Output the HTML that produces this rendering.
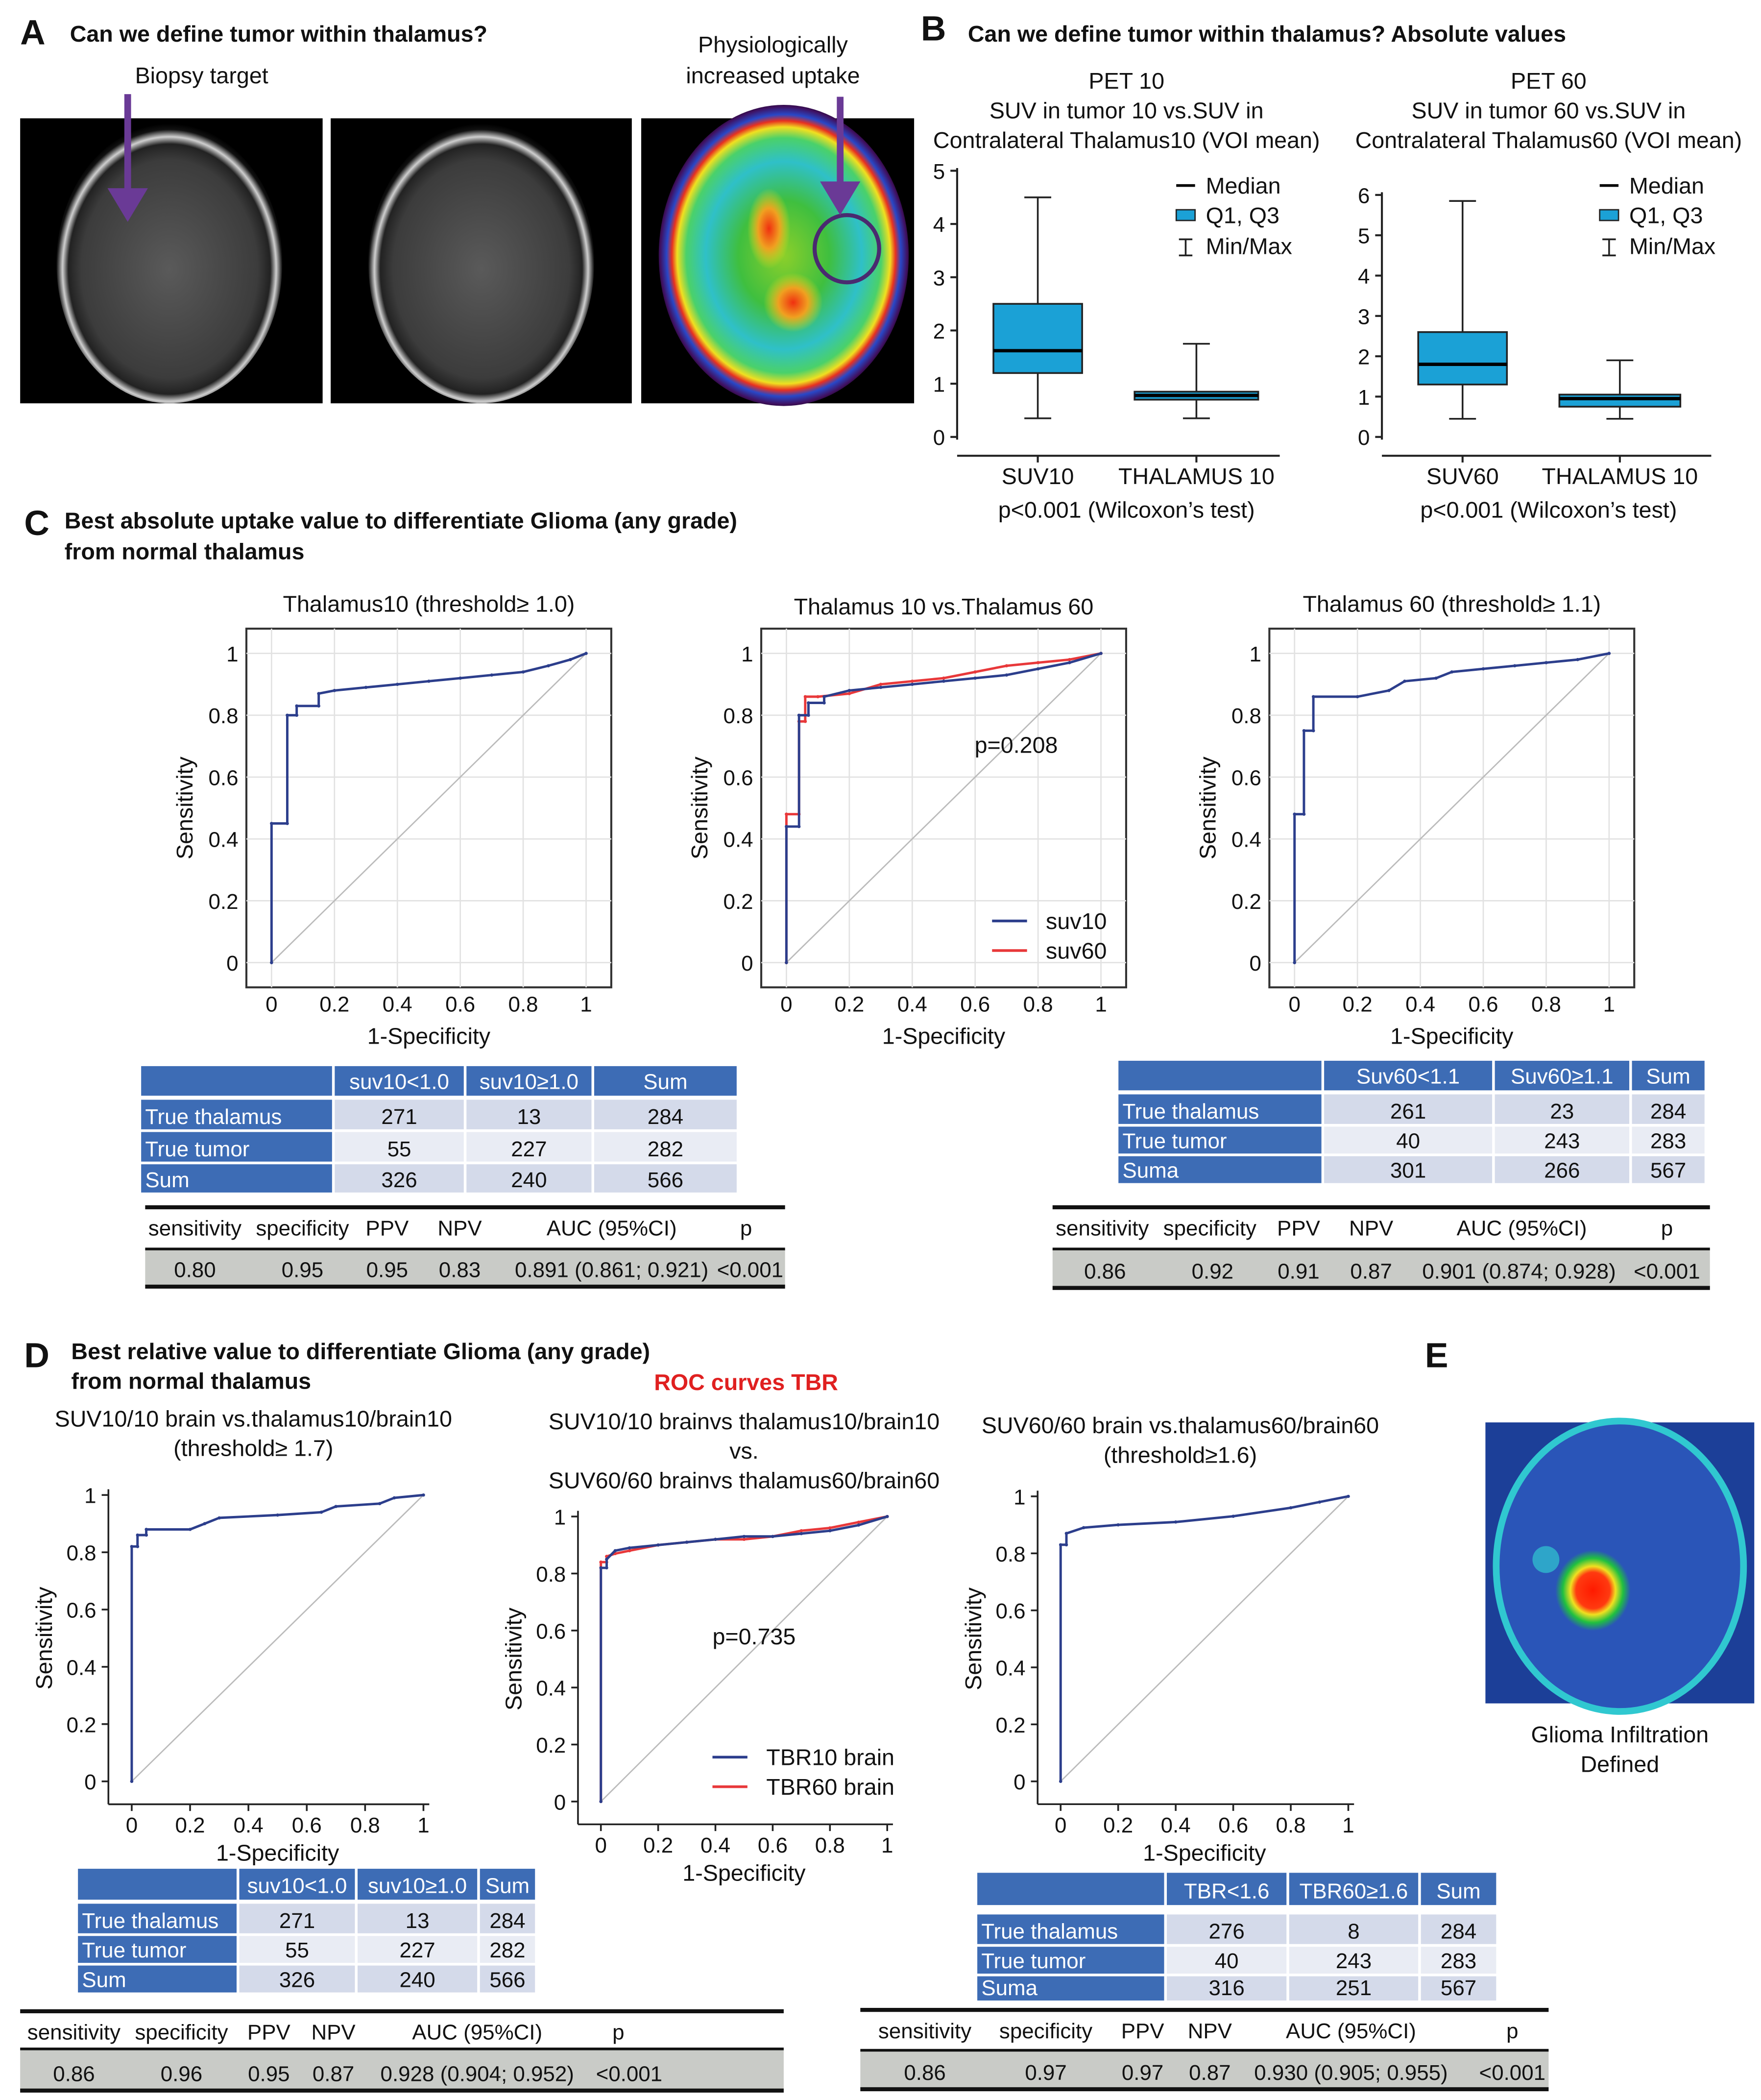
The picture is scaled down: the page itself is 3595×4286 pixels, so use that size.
<!DOCTYPE html>
<html><head><meta charset="utf-8">
<style>
html,body{margin:0;padding:0;background:#fff;}
svg{display:block;font-family:"Liberation Sans",sans-serif;}
</style></head>
<body>
<svg id="fig" width="3595" height="4286" viewBox="0 0 1310 1562" preserveAspectRatio="none" xmlns="http://www.w3.org/2000/svg">
<defs>
<radialGradient id="mri" cx="50%" cy="52%" r="52%">
<stop offset="0" stop-color="#5a5a5a"/><stop offset="0.75" stop-color="#3c3c3c"/><stop offset="0.86" stop-color="#222"/><stop offset="0.91" stop-color="#cfcfcf"/><stop offset="0.96" stop-color="#111"/><stop offset="1" stop-color="#000"/>
</radialGradient>
<radialGradient id="pet" cx="50%" cy="50%" r="52%">
<stop offset="0" stop-color="#8ccf2a"/><stop offset="0.35" stop-color="#3fbf3f"/><stop offset="0.6" stop-color="#2fc0c8"/><stop offset="0.75" stop-color="#4ad16a"/><stop offset="0.82" stop-color="#f0e020"/><stop offset="0.86" stop-color="#e83020"/><stop offset="0.9" stop-color="#2848c8"/><stop offset="0.95" stop-color="#401060"/><stop offset="1" stop-color="#000"/>
</radialGradient>
<radialGradient id="hot" cx="50%" cy="50%" r="50%">
<stop offset="0" stop-color="#ff1a00"/><stop offset="0.45" stop-color="#ff3a10"/><stop offset="0.6" stop-color="#f0e020"/><stop offset="0.8" stop-color="#20c040"/><stop offset="1" stop-color="#20c040" stop-opacity="0"/>
</radialGradient>
<radialGradient id="hotA" cx="50%" cy="50%" r="50%">
<stop offset="0" stop-color="#f03010"/><stop offset="0.5" stop-color="#f0a020"/><stop offset="1" stop-color="#e0e020" stop-opacity="0"/>
</radialGradient>
</defs>
</svg>
<script>
// ---------- DATA ----------
const boxCats1 = ["SUV10", "THALAMUS 10"];
const boxMin1 = [0.35, 0.35];
const boxQ1_1 = [1.2, 0.7];
const boxMed1 = [1.62, 0.78];
const boxQ3_1 = [2.5, 0.85];
const boxMax1 = [4.5, 1.75];
const boxTicks1 = [0, 1, 2, 3, 4, 5];

const boxCats2 = ["SUV60", "THALAMUS 10"];
const boxMin2 = [0.45, 0.45];
const boxQ1_2 = [1.3, 0.75];
const boxMed2 = [1.8, 0.95];
const boxQ3_2 = [2.6, 1.05];
const boxMax2 = [5.85, 1.9];
const boxTicks2 = [0, 1, 2, 3, 4, 5, 6];

const rocTicks = [0, 0.2, 0.4, 0.6, 0.8, 1];
const rocTickLabels = ["0", "0.2", "0.4", "0.6", "0.8", "1"];

const c1x = [0,0,0.05,0.05,0.08,0.08,0.15,0.15,0.2,0.3,0.4,0.5,0.6,0.7,0.8,0.88,0.95,1];
const c1y = [0,0.45,0.45,0.8,0.8,0.83,0.83,0.87,0.88,0.89,0.9,0.91,0.92,0.93,0.94,0.96,0.98,1];
const c2aX = [0,0,0.04,0.04,0.07,0.07,0.12,0.12,0.2,0.3,0.4,0.5,0.6,0.7,0.8,0.9,1];
const c2aY = [0,0.44,0.44,0.8,0.8,0.84,0.84,0.86,0.88,0.89,0.9,0.91,0.92,0.93,0.95,0.97,1];
const c2bX = [0,0,0.04,0.04,0.06,0.06,0.1,0.2,0.3,0.4,0.5,0.6,0.7,0.8,0.9,1];
const c2bY = [0,0.48,0.48,0.78,0.78,0.86,0.86,0.87,0.9,0.91,0.92,0.94,0.96,0.97,0.98,1];
const c3x = [0,0,0.03,0.03,0.06,0.06,0.2,0.3,0.35,0.45,0.5,0.6,0.7,0.8,0.9,1];
const c3y = [0,0.48,0.48,0.75,0.75,0.86,0.86,0.88,0.91,0.92,0.94,0.95,0.96,0.97,0.98,1];
const d1x = [0,0,0.02,0.02,0.05,0.05,0.2,0.25,0.3,0.5,0.65,0.7,0.85,0.9,1];
const d1y = [0,0.82,0.82,0.86,0.86,0.88,0.88,0.9,0.92,0.93,0.94,0.96,0.97,0.99,1];
const d2aX = [0,0,0.02,0.02,0.05,0.1,0.2,0.3,0.4,0.5,0.6,0.7,0.8,0.9,1];
const d2aY = [0,0.82,0.82,0.85,0.88,0.89,0.9,0.91,0.92,0.93,0.93,0.94,0.95,0.97,1];
const d2bX = [0,0,0.02,0.02,0.05,0.1,0.2,0.3,0.4,0.5,0.6,0.7,0.8,0.9,1];
const d2bY = [0,0.84,0.84,0.86,0.87,0.88,0.9,0.91,0.92,0.92,0.93,0.95,0.96,0.98,1];
const d3x = [0,0,0.02,0.02,0.08,0.2,0.4,0.6,0.8,0.9,1];
const d3y = [0,0.83,0.83,0.87,0.89,0.9,0.91,0.93,0.96,0.98,1];

// ---------- HELPERS ----------
const NS = "http://www.w3.org/2000/svg";
const svg = document.getElementById("fig");
function mk(tag, attrs, name, parent) {
  const el = document.createElementNS(NS, tag);
  for (const k in attrs) el.setAttribute(k, attrs[k]);
  
  
  (parent || svg).appendChild(el);
  return el;
}
function txt(x, y, s, name, opts) {
  opts = opts || {};
  const t = mk("text", {x: x, y: y, "font-size": opts.size || 17, "text-anchor": opts.anchor || "start",
    "font-weight": opts.bold ? "bold" : "normal", fill: opts.fill || "#111"}, name);
  if (opts.rot) t.setAttribute("transform", "rotate(-90 " + x + " " + y + ")");
  t.textContent = s;
  return t;
}
function line(x1, y1, x2, y2, stroke, w, name) {
  return mk("line", {x1: x1, y1: y1, x2: x2, y2: y2, stroke: stroke, "stroke-width": w}, name);
}

// ---------- PANEL A ----------
txt(15, 33, "A", "panel-a-label", {size: 26, bold: true});
txt(52, 31, "Can we define tumor within thalamus?", "panel-a-title", {size: 17, bold: true});
txt(150, 62, "Biopsy target", "biopsy-target-label", {anchor: "middle"});
txt(575, 39, "Physiologically", "uptake-label-1", {anchor: "middle"});
txt(575, 62, "increased uptake", "uptake-label-2", {anchor: "middle"});
[[15, 225], [246, 224], [477, 203]].forEach((p, i) => {
  mk("rect", {x: p[0], y: 88, width: p[1], height: 212, fill: "#000"}, "scan-" + (i + 1) + "-bg");
});
mk("ellipse", {cx: 126, cy: 196, rx: 84, ry: 104, fill: "url(#mri)"}, "mri-scan-1");
mk("ellipse", {cx: 358, cy: 196, rx: 84, ry: 104, fill: "url(#mri)"}, "mri-scan-2");
mk("ellipse", {cx: 583, cy: 190, rx: 93, ry: 112, fill: "url(#pet)"}, "pet-scan");
mk("ellipse", {cx: 572, cy: 170, rx: 16, ry: 30, fill: "url(#hotA)"}, "pet-hotspot-1");
mk("ellipse", {cx: 590, cy: 225, rx: 22, ry: 22, fill: "url(#hotA)"}, "pet-hotspot-2");
mk("ellipse", {cx: 630, cy: 185, rx: 24, ry: 25, fill: "none", stroke: "#4a2a70", "stroke-width": 3}, "uptake-circle");
line(95, 70, 95, 145, "#6a3a96", 5, "biopsy-arrow");
mk("polygon", {points: "80,140 110,140 95,165", fill: "#6a3a96"}, "biopsy-arrow-head");
line(625, 72, 625, 140, "#6a3a96", 5, "uptake-arrow");
mk("polygon", {points: "610,135 640,135 625,160", fill: "#6a3a96"}, "uptake-arrow-head");

// ---------- PANEL B ----------
txt(685, 30, "B", "panel-b-label", {size: 26, bold: true});
txt(720, 31, "Can we define tumor within thalamus? Absolute values", "panel-b-title", {size: 17, bold: true});
function boxPlot(o) {
  const ys = v => o.y0 - (o.y0 - o.yTop) * v / o.vmax;
  o.titles.forEach((s, i) => txt(o.tcx, 66 + i * 22, s, o.id + "-title-" + i, {anchor: "middle"}));
  line(o.ax, o.yTop - 2, o.ax, o.y0 + 2, "#222", 1.5, o.id + "-y-axis");
  o.ticks.forEach(t => {
    line(o.ax - 5, ys(t), o.ax, ys(t), "#222", 1.5, o.id + "-ytick");
    txt(o.ax - 9, ys(t) + 6, String(t), o.id + "-ytick-label", {size: 16, anchor: "end"});
  });
  line(o.ax, o.y0 + 14, o.ax + o.w, o.y0 + 14, "#222", 1.5, o.id + "-x-axis");
  o.cats.forEach((c, i) => {
    const cx = o.cx[i], hw = o.bw[i] / 2;
    line(cx, ys(o.mx[i]), cx, ys(o.mn[i]), "#222", 1.3, o.id + "-whisker");
    line(cx - 10, ys(o.mx[i]), cx + 10, ys(o.mx[i]), "#222", 1.3, o.id + "-max-cap");
    line(cx - 10, ys(o.mn[i]), cx + 10, ys(o.mn[i]), "#222", 1.3, o.id + "-min-cap");
    mk("rect", {x: cx - hw, y: ys(o.q3[i]), width: hw * 2, height: ys(o.q1[i]) - ys(o.q3[i]), fill: "#1ba1d6", stroke: "#222", "stroke-width": 1.3}, o.id + "-box-" + i);
    line(cx - hw, ys(o.md[i]), cx + hw, ys(o.md[i]), "#000", 2.5, o.id + "-median-" + i);
    line(cx, o.y0 + 14, cx, o.y0 + 19, "#222", 1.5, o.id + "-xtick");
    txt(cx, o.y0 + 35, c, o.id + "-cat-label-" + i, {anchor: "middle"});
  });
  txt(o.tcx, o.y0 + 60, "p<0.001 (Wilcoxon’s test)", o.id + "-pvalue", {anchor: "middle"});
  const lx = o.legX;
  line(lx, 138, lx + 14, 138, "#000", 2, o.id + "-legend-median-sym");
  txt(lx + 22, 144, "Median", o.id + "-legend-median", {});
  mk("rect", {x: lx, y: 156, width: 14, height: 8, fill: "#1ba1d6", stroke: "#222"}, o.id + "-legend-box-sym");
  txt(lx + 22, 166, "Q1, Q3", o.id + "-legend-q", {});
  line(lx + 7, 178, lx + 7, 190, "#222", 1.3, o.id + "-legend-mm-sym");
  line(lx + 2, 178, lx + 12, 178, "#222", 1.3, o.id + "-legend-mm-top");
  line(lx + 2, 190, lx + 12, 190, "#222", 1.3, o.id + "-legend-mm-bot");
  txt(lx + 22, 189, "Min/Max", o.id + "-legend-minmax", {});
}
boxPlot({id: "pet10", titles: ["PET 10", "SUV in tumor 10 vs.SUV in", "Contralateral Thalamus10 (VOI mean)"], tcx: 838,
  ax: 712, yTop: 127, y0: 325, vmax: 5, ticks: boxTicks1, w: 240, cats: boxCats1, cx: [772, 890], bw: [66, 92],
  mn: boxMin1, q1: boxQ1_1, md: boxMed1, q3: boxQ3_1, mx: boxMax1, legX: 875});
boxPlot({id: "pet60", titles: ["PET 60", "SUV in tumor 60 vs.SUV in", "Contralateral Thalamus60 (VOI mean)"], tcx: 1152,
  ax: 1028, yTop: 145, y0: 325, vmax: 6, ticks: boxTicks2, w: 245, cats: boxCats2, cx: [1088, 1205], bw: [66, 90],
  mn: boxMin2, q1: boxQ1_2, md: boxMed2, q3: boxQ3_2, mx: boxMax2, legX: 1190});

// ---------- ROC ----------
function roc(o) {
  const sx = v => o.x0 + (o.x1 - o.x0) * v;
  const sy = v => o.y0 - (o.y0 - o.y1) * v;
  o.titles.forEach((s, i) => txt((o.x0 + o.x1) / 2 + (o.tdx || 0), o.ty + i * 22, s, o.id + "-title-" + i, {anchor: "middle"}));
  if (o.grid) {
    mk("rect", {x: sx(-0.08), y: sy(1.08), width: sx(1.08) - sx(-0.08), height: sy(-0.08) - sy(1.08), fill: "none", stroke: "#333", "stroke-width": 1.5}, o.id + "-frame");
    rocTicks.forEach(t => {
      line(sx(t), sy(-0.08), sx(t), sy(1.08), "#e2e2e2", 1, o.id + "-vgrid");
      line(sx(-0.08), sy(t), sx(1.08), sy(t), "#e2e2e2", 1, o.id + "-hgrid");
    });
    rocTicks.forEach((t, i) => {
      txt(sx(t), sy(-0.08) + 18, rocTickLabels[i], o.id + "-xtick-label", {size: 16, anchor: "middle"});
      txt(sx(-0.08) - 6, sy(t) + 6, rocTickLabels[i], o.id + "-ytick-label", {size: 16, anchor: "end"});
    });
    txt((o.x0 + o.x1) / 2, sy(-0.08) + 42, "1-Specificity", o.id + "-x-title", {anchor: "middle"});
    txt(sx(-0.08) - 40, (o.y0 + o.y1) / 2, "Sensitivity", o.id + "-y-title", {anchor: "middle", rot: true});
  } else {
    const ax = sx(-0.08), ay = sy(-0.08);
    line(ax, sy(1.02), ax, ay, "#222", 1.3, o.id + "-y-axis");
    line(ax, ay, sx(1.02), ay, "#222", 1.3, o.id + "-x-axis");
    rocTicks.forEach((t, i) => {
      line(sx(t), ay, sx(t), ay + 5, "#222", 1.3, o.id + "-xtick");
      line(ax - 5, sy(t), ax, sy(t), "#222", 1.3, o.id + "-ytick");
      txt(sx(t), ay + 21, rocTickLabels[i], o.id + "-xtick-label", {size: 16, anchor: "middle"});
      txt(ax - 9, sy(t) + 6, rocTickLabels[i], o.id + "-ytick-label", {size: 16, anchor: "end"});
    });
    txt((o.x0 + o.x1) / 2, ay + 42, "1-Specificity", o.id + "-x-title", {anchor: "middle"});
    txt(ax - 42, (o.y0 + o.y1) / 2, "Sensitivity", o.id + "-y-title", {anchor: "middle", rot: true});
  }
  line(sx(0), sy(0), sx(1), sy(1), "#bbb", 1, o.id + "-diagonal");
  o.series.forEach((s, k) => {
    const pts = s.x.map((v, i) => sx(v).toFixed(1) + "," + sy(s.y[i]).toFixed(1)).join(" ");
    mk("polyline", {points: pts, fill: "none", stroke: s.color, "stroke-width": 1.8}, o.id + "-curve-" + s.name);
    s.x.forEach((v, i) => {
      mk("circle", {cx: sx(v), cy: sy(s.y[i]), r: 1.2, fill: s.color}, o.id + "-point-" + s.name);
    });
  });
  if (o.p) txt(o.p[0], o.p[1], o.p[2], o.id + "-pvalue", {});
}
const BLUE = "#2c3e8c", RED = "#e8383a";
txt(18, 398, "C", "panel-c-label", {size: 26, bold: true});
txt(48, 393, "Best absolute uptake value to differentiate Glioma (any grade)", "panel-c-title-1", {size: 17, bold: true});
txt(48, 416, "from normal thalamus", "panel-c-title-2", {size: 17, bold: true});
roc({id: "roc-c1", x0: 202, x1: 436, y0: 716, y1: 486, grid: true, ty: 455, titles: ["Thalamus10 (threshold≥ 1.0)"],
  series: [{name: "suv10", x: c1x, y: c1y, color: BLUE}]});
roc({id: "roc-c2", x0: 585, x1: 819, y0: 716, y1: 486, grid: true, ty: 457, titles: ["Thalamus 10 vs.Thalamus 60"],
  series: [{name: "suv60", x: c2bX, y: c2bY, color: RED}, {name: "suv10", x: c2aX, y: c2aY, color: BLUE}],
  p: [725, 560, "p=0.208"]});
line(738, 685, 764, 685, BLUE, 2, "roc-c2-legend-sym-suv10");
txt(778, 691, "suv10", "roc-c2-legend-suv10", {});
line(738, 707, 764, 707, RED, 2, "roc-c2-legend-sym-suv60");
txt(778, 713, "suv60", "roc-c2-legend-suv60", {});
roc({id: "roc-c3", x0: 963, x1: 1197, y0: 716, y1: 486, grid: true, ty: 455, titles: ["Thalamus 60 (threshold≥ 1.1)"],
  series: [{name: "suv60", x: c3x, y: c3y, color: BLUE}]});

// ---------- TABLES ----------
function ctable(id, cols, rows, header, data) {
  const HB = "#3d6cb5";
  for (let c = 0; c < cols.length; c++) {
    mk("rect", {x: cols[c][0], y: rows[0][0], width: cols[c][1] - cols[c][0], height: rows[0][1] - rows[0][0], fill: HB}, id + "-header-cell");
    if (c > 0) txt((cols[c][0] + cols[c][1]) / 2, rows[0][1] - 5, header[c - 1], id + "-header-" + c, {size: 16, anchor: "middle", fill: "#fff"});
  }
  for (let r = 1; r < rows.length; r++) {
    const d = data[r - 1];
    mk("rect", {x: cols[0][0], y: rows[r][0], width: cols[0][1] - cols[0][0], height: rows[r][1] - rows[r][0], fill: HB}, id + "-row-label-cell");
    txt(cols[0][0] + 3, rows[r][1] - 4, d[0], id + "-row-label-" + r, {size: 16, fill: "#fff"});
    for (let c = 1; c < cols.length; c++) {
      mk("rect", {x: cols[c][0], y: rows[r][0], width: cols[c][1] - cols[c][0], height: rows[r][1] - rows[r][0], fill: r % 2 ? "#d4daea" : "#e9ecf4"}, id + "-cell");
      txt((cols[c][0] + cols[c][1]) / 2, rows[r][1] - 4, d[c], id + "-value-" + r + "-" + c, {size: 16, anchor: "middle"});
    }
  }
}
function stable(id, x0, x1, yTop, yMid, yBot, hx, heads, vx, vals) {
  line(x0, yTop, x1, yTop, "#111", 3, id + "-top-rule");
  heads.forEach((h, i) => txt(hx[i], yTop + 21, h, id + "-head-" + i, {size: 16, anchor: "middle"}));
  mk("rect", {x: x0, y: yMid, width: x1 - x0, height: yBot - yMid, fill: "#c9cbc7"}, id + "-value-row");
  line(x0, yMid, x1, yMid, "#111", 2, id + "-mid-rule");
  line(x0, yBot, x1, yBot, "#111", 3, id + "-bottom-rule");
  vals.forEach((v, i) => txt(vx[i], yBot - 7, v, id + "-val-" + i, {size: 16, anchor: "middle"}));
}
ctable("table-c1", [[105, 247], [249, 345], [347, 440], [442, 548]], [[793, 815], [818, 840], [842, 864], [866, 887]], ["suv10<1.0", "suv10≥1.0", "Sum"],
  [["True thalamus", "271", "13", "284"], ["True tumor", "55", "227", "282"], ["Sum", "326", "240", "566"]]);
stable("stats-c1", 108, 584, 898, 929, 957, [145, 225, 288, 342, 455, 555],
  ["sensitivity", "specificity", "PPV", "NPV", "AUC (95%CI)", "p"],
  [145, 225, 288, 342, 455, 558], ["0.80", "0.95", "0.95", "0.83", "0.891 (0.861; 0.921)", "<0.001"]);
ctable("table-c3", [[832, 983], [985, 1110], [1112, 1212], [1214, 1268]], [[789, 811], [814, 836], [838, 858], [860, 880]], ["Suv60<1.1", "Suv60≥1.1", "Sum"],
  [["True thalamus", "261", "23", "284"], ["True tumor", "40", "243", "283"], ["Suma", "301", "266", "567"]]);
stable("stats-c3", 783, 1272, 898, 929, 958, [820, 900, 966, 1020, 1132, 1240],
  ["sensitivity", "specificity", "PPV", "NPV", "AUC (95%CI)", "p"],
  [822, 902, 966, 1020, 1130, 1240], ["0.86", "0.92", "0.91", "0.87", "0.901 (0.874; 0.928)", "<0.001"]);

// ---------- PANEL D ----------
txt(18, 1017, "D", "panel-d-label", {size: 26, bold: true});
txt(53, 1011, "Best relative value to differentiate Glioma (any grade)", "panel-d-title-1", {size: 17, bold: true});
txt(53, 1033, "from normal thalamus", "panel-d-title-2", {size: 17, bold: true});
txt(555, 1034, "ROC curves TBR", "roc-tbr-title", {size: 17, bold: true, anchor: "middle", fill: "#e02020"});
roc({id: "roc-d1", x0: 98, x1: 315, y0: 1325, y1: 1112, ty: 1061, tdx: -18,
  titles: ["SUV10/10 brain vs.thalamus10/brain10", "(threshold≥ 1.7)"],
  series: [{name: "tbr10", x: d1x, y: d1y, color: BLUE}]});
roc({id: "roc-d2", x0: 447, x1: 660, y0: 1340, y1: 1128, ty: 1063,
  titles: ["SUV10/10 brainvs thalamus10/brain10", "vs.", "SUV60/60 brainvs thalamus60/brain60"],
  series: [{name: "tbr60", x: d2bX, y: d2bY, color: RED}, {name: "tbr10", x: d2aX, y: d2aY, color: BLUE}],
  p: [530, 1223, "p=0.735"]});
line(530, 1307, 556, 1307, BLUE, 2, "roc-d2-legend-sym-tbr10");
txt(570, 1313, "TBR10 brain", "roc-d2-legend-tbr10", {});
line(530, 1329, 556, 1329, RED, 2, "roc-d2-legend-sym-tbr60");
txt(570, 1335, "TBR60 brain", "roc-d2-legend-tbr60", {});
roc({id: "roc-d3", x0: 789, x1: 1003, y0: 1325, y1: 1113, ty: 1066, tdx: -18,
  titles: ["SUV60/60 brain vs.thalamus60/brain60", "(threshold≥1.6)"],
  series: [{name: "tbr60", x: d3x, y: d3y, color: BLUE}]});
ctable("table-d1", [[58, 176], [178, 264], [266, 355], [357, 398]], [[1390, 1413], [1416, 1438], [1440, 1460], [1462, 1482]],
  ["suv10<1.0", "suv10≥1.0", "Sum"],
  [["True thalamus", "271", "13", "284"], ["True tumor", "55", "227", "282"], ["Sum", "326", "240", "566"]]);
stable("stats-d1", 15, 583, 1496, 1524, 1555, [55, 135, 200, 248, 355, 460],
  ["sensitivity", "specificity", "PPV", "NPV", "AUC (95%CI)", "p"],
  [55, 135, 200, 248, 355, 468], ["0.86", "0.96", "0.95", "0.87", "0.928 (0.904; 0.952)", "<0.001"]);
ctable("table-d3", [[727, 866], [868, 957], [959, 1055], [1057, 1113]], [[1393, 1417], [1424, 1446], [1448, 1468], [1470, 1488]],
  ["TBR<1.6", "TBR60≥1.6", "Sum"],
  [["True thalamus", "276", "8", "284"], ["True tumor", "40", "243", "283"], ["Suma", "316", "251", "567"]]);
stable("stats-d3", 640, 1152, 1495, 1525, 1554, [688, 778, 850, 900, 1005, 1125],
  ["sensitivity", "specificity", "PPV", "NPV", "AUC (95%CI)", "p"],
  [688, 778, 850, 900, 1005, 1125], ["0.86", "0.97", "0.97", "0.87", "0.930 (0.905; 0.955)", "<0.001"]);

// ---------- PANEL E ----------
txt(1060, 1017, "E", "panel-e-label", {size: 26, bold: true});
mk("rect", {x: 1105, y: 1058, width: 200, height: 209, fill: "#1c3f98"}, "panel-e-image-bg");
mk("ellipse", {cx: 1205, cy: 1165, rx: 92, ry: 108, fill: "#2a55b8", stroke: "#30c8d0", "stroke-width": 5}, "panel-e-brain");
mk("ellipse", {cx: 1185, cy: 1183, rx: 28, ry: 30, fill: "url(#hot)"}, "panel-e-tumor");
mk("ellipse", {cx: 1150, cy: 1160, rx: 10, ry: 10, fill: "#30c8d0", opacity: 0.7}, "panel-e-spot");
txt(1205, 1296, "Glioma Infiltration", "panel-e-caption-1", {anchor: "middle"});
txt(1205, 1318, "Defined", "panel-e-caption-2", {anchor: "middle"});
</script>
</body></html>
